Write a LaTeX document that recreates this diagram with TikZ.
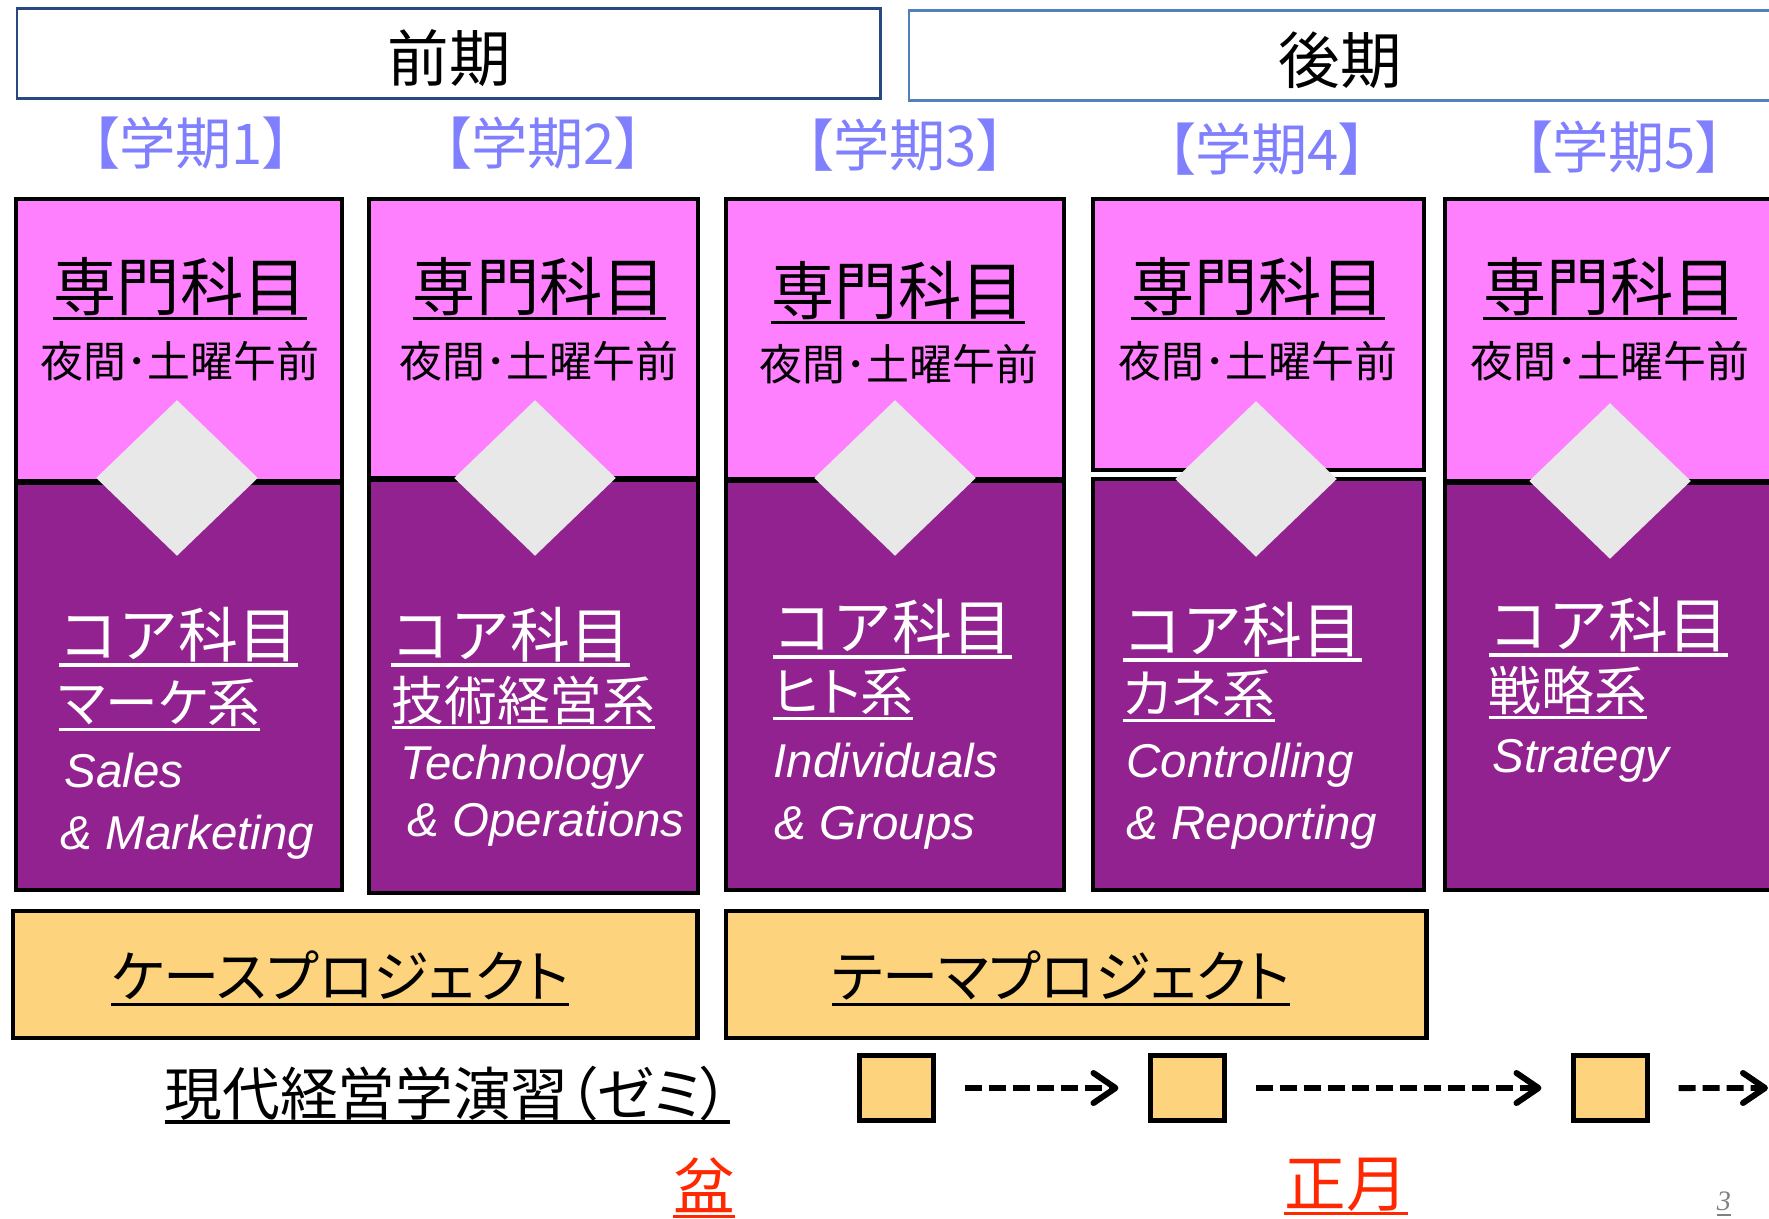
\documentclass[tikz,border=0pt]{standalone}
\usepackage{fontspec}
\setmainfont{Noto Sans CJK JP}
\newfontfamily\labelfont{Noto Sans CJK JP}[RawFeature=+palt]
\newfontfamily\engfont{Liberation Sans}
\newfontfamily\pagefont{Liberation Serif}
\usetikzlibrary{shapes.geometric, arrows.meta, positioning}

\definecolor{pinkbg}{RGB}{255,128,255}
\definecolor{purplebg}{RGB}{146,34,144}
\definecolor{diagray}{RGB}{232,232,232}
\definecolor{projgold}{RGB}{253,212,125}
\definecolor{termblue}{RGB}{128,128,255}
\definecolor{zenkinavy}{RGB}{40,72,130}
\definecolor{kokiblue}{RGB}{79,129,189}
\definecolor{bonred}{RGB}{255,40,0}

% thick underline under a word
\newcommand{\ulc}[1]{\setbox0\hbox{#1}\leavevmode\rlap{\vrule height -0.09em depth 0.15em width \wd0}\box0}

\begin{document}
\begin{tikzpicture}[x=0.01cm, y=-0.01cm,
	hdrbox/.style={draw, fill=white, inner sep=0pt, outer sep=0pt, anchor=north west},
	pinkbox/.style={draw, line width=1.2pt, fill=pinkbg, inner sep=0pt, outer sep=0pt, anchor=north west},
	purplebox/.style={draw, line width=1.2pt, fill=purplebg, inner sep=0pt, outer sep=0pt, anchor=north west},
	dia/.style={diamond, fill=diagray, minimum width=1.62cm, minimum height=1.56cm, inner sep=0pt},
	projbox/.style={draw, line width=1.3pt, fill=projgold, inner sep=0pt, outer sep=0pt, anchor=north west, minimum height=1.27cm},
	zemibox/.style={draw, line width=1.4pt, fill=projgold, inner sep=0pt, outer sep=0pt, anchor=north west, minimum width=0.74cm, minimum height=0.65cm},
	headtxt/.style={font=\fontsize{17.5pt}{20pt}\selectfont, inner sep=0pt},
	termlabel/.style={font=\labelfont\fontsize{16pt}{18pt}\selectfont, text=termblue, inner sep=0pt},
	senmon/.style={font=\fontsize{18pt}{21pt}\selectfont, inner sep=0pt, anchor=base},
	yakan/.style={font=\fontsize{12.2pt}{14pt}\selectfont, inner sep=0pt},
	coretxt/.style={font=\fontsize{17pt}{20pt}\selectfont, text=white, inner sep=0pt, anchor=base west},
	fieldtxt/.style={font=\labelfont\fontsize{15pt}{18pt}\selectfont, text=white, inner sep=0pt, anchor=base west},
	engtxt/.style={font=\engfont\itshape\fontsize{13.5pt}{15pt}\selectfont, text=white, inner sep=0pt, anchor=base west},
	projtxt/.style={font=\labelfont\fontsize{16pt}{18pt}\selectfont, inner sep=0pt, anchor=base},
	bontxt/.style={font=\fontsize{17.5pt}{20pt}\selectfont, text=bonred, inner sep=0pt, anchor=base},
	flow/.style={line width=1.7pt, dash pattern=on 0.17cm off 0.07cm,
		-{Straight Barb[length=0.22cm, width=0.3cm, line cap=round, line join=round]},
		shorten <=0.31cm, shorten >=0.32cm}]
	\useasboundingbox (0,0) rectangle (1769,1219);
	\clip (0,0) rectangle (1769,1219);

	% first / second half
	\node[hdrbox, draw=zenkinavy, line width=0.85pt, minimum width=8.63cm, minimum height=0.89cm] (zenki) at (17,9) {};
	\node[hdrbox, draw=kokiblue, line width=0.7pt, minimum width=8.67cm, minimum height=0.90cm] (koki) at (909,10.5) {};
	\node[headtxt] (zenkitxt) at (449,58.5) {前期};
	\node[headtxt] (kokitxt) at (1340,60) {後期};

	\node[termlabel] (term1) at (191,143) {【学期1】};
	\node[termlabel] (term2) at (543,143.5) {【学期2】};
	\node[termlabel] (term3) at (905,145) {【学期3】};
	\node[termlabel] (term4) at (1267,149) {【学期4】};
	\node[termlabel] (term5) at (1624,147) {【学期5】};

	% columns
	\node[pinkbox, minimum width=3.26cm, minimum height=2.82cm] (sen1) at (16,199) {};
	\node[purplebox, minimum width=3.26cm, minimum height=4.07cm] (core1) at (16,483) {};
	\node[pinkbox, minimum width=3.29cm, minimum height=2.79cm] (sen2) at (369,199) {};
	\node[purplebox, minimum width=3.29cm, minimum height=4.13cm] (core2) at (369,480) {};
	\node[pinkbox, minimum width=3.38cm, minimum height=2.80cm] (sen3) at (726,199) {};
	\node[purplebox, minimum width=3.38cm, minimum height=4.09cm] (core3) at (726,481) {};
	\node[pinkbox, minimum width=3.31cm, minimum height=2.71cm] (sen4) at (1093,199) {};
	\node[purplebox, minimum width=3.31cm, minimum height=4.11cm] (core4) at (1093,479) {};
	\node[pinkbox, minimum width=3.31cm, minimum height=2.82cm] (sen5) at (1445,199) {};
	\node[purplebox, minimum width=3.31cm, minimum height=4.07cm] (core5) at (1445,483) {};

	\node[dia] (dia1) at (177,478) {};
	\node[dia] (dia2) at (535,478) {};
	\node[dia] (dia3) at (895,478) {};
	\node[dia] (dia4) at (1256,479) {};
	\node[dia] (dia5) at (1610,481) {};

	\node[senmon] (senA) at (180,311) {\ulc{専門科目}};
	\node[senmon] (senB) at (539.5,311) {\ulc{専門科目}};
	\node[senmon] (senC) at (898,315) {\ulc{専門科目}};
	\node[senmon] (senD) at (1258,311) {\ulc{専門科目}};
	\node[senmon] (senE) at (1610,311) {\ulc{専門科目}};
	\node[yakan] (yakan1) at (180,361) {夜間･土曜午前};
	\node[yakan] (yakan2) at (539,361) {夜間･土曜午前};
	\node[yakan] (yakan3) at (899,364) {夜間･土曜午前};
	\node[yakan] (yakan4) at (1258,361) {夜間･土曜午前};
	\node[yakan] (yakan5) at (1610,361) {夜間･土曜午前};

	\node[coretxt] (coreA) at (58,658) {\ulc{コア科目}};
	\node[fieldtxt] (fieldA) at (58,723) {\ulc{マーケ系}};
	\node[engtxt] (engA1) at (64,788) {Sales};
	\node[engtxt] (engA2) at (60,850) {\& Marketing};
	\node[coretxt] (coreB) at (390,658) {\ulc{コア科目}};
	\node[fieldtxt] (fieldB) at (391,721) {\ulc{技術経営系}};
	\node[engtxt] (engB1) at (400,780) {Technology};
	\node[engtxt] (engB2) at (407,837) {\& Operations};
	\node[coretxt] (coreC) at (772,650) {\ulc{コア科目}};
	\node[fieldtxt] (fieldC) at (772,712) {\ulc{ヒト系}};
	\node[engtxt] (engC1) at (773,778) {Individuals};
	\node[engtxt] (engC2) at (774,840) {\& Groups};
	\node[coretxt] (coreD) at (1122,653) {\ulc{コア科目}};
	\node[fieldtxt] (fieldD) at (1122,714) {\ulc{カネ系}};
	\node[engtxt] (engD1) at (1126,778) {Controlling};
	\node[engtxt] (engD2) at (1126,840) {\& Reporting};
	\node[coretxt] (coreE) at (1488,648) {\ulc{コア科目}};
	\node[fieldtxt] (fieldE) at (1488,711) {\ulc{戦略系}};
	\node[engtxt] (engE1) at (1492,773) {Strategy};

	% projects
	\node[projbox, minimum width=6.84cm] (case) at (13,911) {};
	\node[projbox, minimum width=7.00cm] (theme) at (726,911) {};
	\node[projtxt] (casetxt) at (340,998) {\ulc{ケースプロジェクト}};
	\node[projtxt] (themetxt) at (1061,998) {\ulc{テーマプロジェクト}};

	% seminar
	\node[projtxt, font=\labelfont\fontsize{16.4pt}{18pt}\selectfont, anchor=base west] (zemi) at (164,1115) {\ulc{現代経営学演習（ゼミ）}};
	\node[zemibox] (sq1) at (859.5,1055.5) {};
	\node[zemibox] (sq2) at (1150.5,1055.5) {};
	\node[zemibox] (sq3) at (1573.5,1055.5) {};
	\coordinate (sqend) at (1800,1088);
	\draw[flow] (sq1) -- (sq2);
	\draw[flow] (sq2) -- (sq3);
	\draw[flow] (sq3) -- (sqend);

	\node[bontxt] (bon) at (704,1209) {\ulc{盆}};
	\node[bontxt] (shogatsu) at (1346,1206) {\ulc{正月}};
	\node[font=\pagefont\itshape\fontsize{8pt}{9pt}\selectfont, text=gray, inner sep=0pt, anchor=base] (page) at (1724,1210) {\underline{3}};
\end{tikzpicture}
\end{document}
